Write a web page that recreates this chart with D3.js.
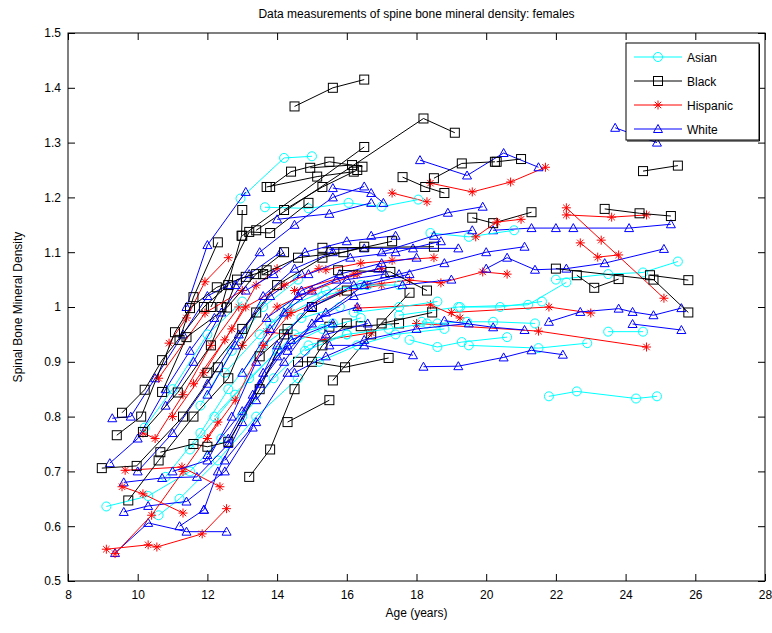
<!DOCTYPE html>
<html><head><meta charset="utf-8">
<script src="https://cdn.jsdelivr.net/npm/d3@7"></script>
<style>body{margin:0;background:#fff}svg{display:block}text{font-family:"Liberation Sans",Arial,Helvetica,sans-serif}</style>
</head><body><svg id="c" width="772" height="633"></svg>
<script>
const xTicks = [8,10,12,14,16,18,20,22,24,26,28];
const yTicks = [0.5,0.6,0.7,0.8,0.9,1.0,1.1,1.2,1.3,1.4,1.5];
const raceNames = ["Asian","Black","Hispanic","White"];
const raceColors = ["#00ffff","#000000","#ff0000","#0000ff"];

const asian = [
 [[12.95,1.198],[14.2,1.272],[15.0,1.275]],
 [[13.65,1.182],[14.9,1.18],[16.05,1.19],[17.0,1.183],[18.05,1.196]],
 [[21.8,0.837],[22.6,0.846],[24.3,0.833],[24.9,0.837]],
 [[17.5,0.985],[19.2,1.0],[21.2,1.004],[22.3,1.045]],
 [[22.0,1.05],[23.5,1.06],[24.5,1.063],[25.5,1.083]],
 [[19.5,0.93],[21.5,0.925],[22.9,0.934]],
 [[17.8,0.94],[18.6,0.927],[19.3,0.936],[20.6,0.945]],
 [[23.5,0.955],[24.5,0.955]],
 [[18.15,0.973],[18.6,0.97],[19.45,0.973],[20.2,0.973],[21.4,0.97]],
 [[19.25,1.0],[20.4,1.0],[21.6,1.01]],
 [[9.1,0.636],[10.3,0.655],[11.5,0.70],[12.4,0.76]],
 [[10.6,0.62],[11.2,0.65],[12.3,0.72],[13.4,0.80],[14.6,0.87]],
 [[10.8,0.69],[11.8,0.77],[12.6,0.85],[13.6,0.93],[14.7,0.98],[15.8,1.0]],
 [[11.5,0.74],[12.8,0.84],[14.0,0.92],[15.3,0.96],[16.4,0.98]],
 [[12.2,0.80],[13.2,0.87],[14.5,0.95],[15.6,0.97]],
 [[11.8,0.82],[12.7,0.92],[13.6,1.0],[14.6,1.05]],
 [[13.5,0.95],[14.3,1.0],[15.4,1.03],[16.4,1.04],[17.5,1.04]],
 [[12.5,0.88],[13.8,0.97],[15.3,1.02],[16.6,1.04]],
 [[14.8,0.92],[16.0,0.95],[17.2,0.96],[18.3,0.97]],
 [[10.2,0.78],[11.0,0.85],[12.0,0.95],[13.0,1.01]],
 [[16.2,0.99],[17.5,1.0],[18.6,1.01]],
 [[18.4,1.135],[19.5,1.128],[20.8,1.14]],
 [[15.2,0.90],[16.3,0.93],[17.4,0.95],[18.8,0.96]],
 [[13.0,0.80],[13.9,0.87],[14.9,0.93],[16.0,0.95]]
];

const black = [
 [[14.5,1.366],[15.6,1.40],[16.5,1.415]],
 [[13.0,1.13],[16.5,1.292]],
 [[13.4,1.14],[18.2,1.344],[19.1,1.318]],
 [[24.5,1.248],[25.5,1.258]],
 [[13.8,1.219],[14.4,1.247],[15.5,1.265],[16.45,1.256]],
 [[14.95,1.254],[16.15,1.259]],
 [[13.7,1.219],[15.15,1.238],[16.2,1.247]],
 [[14.2,1.177],[15.3,1.219],[16.3,1.25]],
 [[17.6,1.237],[18.25,1.219],[18.8,1.208]],
 [[18.5,1.235],[19.3,1.262],[20.25,1.265]],
 [[19.6,1.163],[20.2,1.153],[21.3,1.173]],
 [[15.3,1.108],[18.5,1.11]],
 [[15.5,0.964],[16.4,0.965],[17.5,0.97]],
 [[14.3,0.79],[15.5,0.83]],
 [[15.6,0.866],[16.7,0.95],[17.8,1.026]],
 [[14.6,0.9],[15.0,0.9],[15.95,0.89],[17.2,0.907]],
 [[23.4,1.179],[24.4,1.171],[25.3,1.166]],
 [[22.6,1.058],[23.1,1.035],[23.8,1.051]],
 [[24.7,1.058],[25.8,1.049]],
 [[22.0,1.07],[24.8,1.05],[25.8,0.99]],
 [[12.4,1.0],[12.98,1.13],[13.0,1.177]],
 [[11.2,0.94],[11.6,1.018],[12.3,1.118]],
 [[12.1,1.0],[13.2,1.137],[13.8,1.135],[14.9,1.19]],
 [[8.97,0.706],[9.97,0.71],[11.3,0.80],[12.3,0.89]],
 [[9.55,0.807],[10.2,0.849],[10.7,0.903],[11.9,1.0],[12.6,1.04]],
 [[9.4,0.766],[10.1,0.80],[11.07,0.954],[11.5,0.998],[12.27,1.036],[13.1,1.055]],
 [[9.73,0.647],[10.6,0.72],[11.6,0.80],[12.6,0.87],[13.4,0.99]],
 [[10.15,0.772],[11.15,0.844],[12.1,0.93],[12.85,1.05],[13.7,1.067]],
 [[10.65,0.735],[11.6,0.75],[12.0,0.745],[12.6,0.754],[13.5,0.85],[14.3,0.96]],
 [[13.2,0.69],[13.8,0.74],[14.5,0.85],[15.3,0.93],[16.0,0.97]],
 [[10.7,0.845],[11.4,0.945],[12.56,0.999],[13.4,1.06],[14.2,1.1]],
 [[12.0,0.88],[13.0,0.96],[14.0,1.04],[15.3,1.09],[16.5,1.11]],
 [[13.5,0.91],[14.2,0.95],[15.0,1.0],[16.0,1.03]],
 [[15.75,1.067],[17.25,1.064],[18.3,1.03]],
 [[17.0,0.97],[18.45,0.99]],
 [[20.3,1.265],[21.0,1.27]],
 [[13.6,1.06],[14.6,1.09],[15.9,1.1],[17.3,1.12]]
];

const hispanic = [
 [[17.3,1.208],[18.3,1.192]],
 [[18.4,1.226],[19.6,1.21],[20.7,1.228],[21.7,1.255]],
 [[15.4,1.068],[16.4,1.08],[17.3,1.085],[18.5,1.09]],
 [[16.6,1.04],[17.8,1.049],[18.7,1.044],[19.9,1.064],[20.6,1.06]],
 [[14.3,0.985],[15.8,1.027],[17.0,1.04]],
 [[16.3,0.998],[18.4,1.004],[19.25,0.98]],
 [[13.7,0.955],[15.4,0.94],[16.7,0.953]],
 [[18.0,0.97],[21.5,0.956],[24.6,0.927]],
 [[19.0,0.99],[21.8,1.0],[23.0,0.989]],
 [[22.3,1.181],[23.3,1.122],[25.1,1.016]],
 [[22.3,1.168],[23.6,1.164],[24.6,1.168]],
 [[22.7,1.117],[23.2,1.091],[23.8,1.095]],
 [[9.1,0.558],[10.3,0.566],[10.55,0.562],[11.85,0.586],[12.55,0.632]],
 [[9.35,0.55],[10.4,0.62],[11.3,0.70],[12.3,0.79]],
 [[9.55,0.672],[10.15,0.659],[11.3,0.624]],
 [[9.64,0.702],[11.27,0.708],[12.36,0.672]],
 [[10.15,0.77],[10.5,0.76],[11.3,0.84],[12.1,0.93],[12.9,1.0]],
 [[10.9,0.934],[11.4,0.98],[11.93,1.046],[12.6,1.09]],
 [[11.0,0.80],[11.9,0.88],[12.7,0.96],[13.4,1.04],[14.0,1.07]],
 [[11.6,0.86],[12.5,0.94],[13.1,1.0],[14.2,1.04],[15.2,1.07]],
 [[12.0,0.76],[12.8,0.83],[13.6,0.93],[14.4,0.99]],
 [[10.6,0.87],[11.93,0.989],[13.0,1.03]],
 [[13.0,0.93],[14.0,1.0],[15.0,1.03],[16.3,1.06]],
 [[14.5,1.03],[16.2,1.06],[17.0,1.07]],
 [[19.7,1.128],[20.3,1.155],[21.0,1.16]]
];

const white = [
 [[23.7,1.327],[24.9,1.30]],
 [[18.1,1.268],[19.45,1.24],[20.5,1.281],[21.5,1.255]],
 [[15.6,1.217],[16.7,1.208],[17.05,1.19]],
 [[16.7,1.13],[18.9,1.172],[19.9,1.183]],
 [[15.5,1.105],[16.5,1.107],[17.9,1.107],[19.2,1.107]],
 [[20.2,1.14],[21.3,1.144],[22.0,1.144],[22.5,1.144],[24.1,1.144],[25.3,1.151]],
 [[20.0,1.07],[20.6,1.09],[21.4,1.068],[22.3,1.07],[23.4,1.08],[25.1,1.106]],
 [[18.2,0.891],[19.2,0.892],[20.5,0.908],[21.3,0.921],[22.2,0.913]],
 [[21.8,0.973],[22.7,0.991],[23.8,0.997],[24.2,0.991],[24.8,0.985],[25.6,0.998]],
 [[18.8,0.975],[20.2,0.963],[21.1,0.958]],
 [[24.2,0.969],[25.6,0.958]],
 [[9.35,0.551],[10.3,0.606],[11.4,0.59],[12.55,0.59]],
 [[9.6,0.626],[10.3,0.637],[11.4,0.645],[12.5,0.70],[13.3,0.78]],
 [[9.6,0.68],[10.7,0.688],[11.7,0.69],[12.6,0.75],[13.5,0.86],[14.3,0.93]],
 [[9.27,0.797],[9.8,0.80],[10.5,0.87],[11.3,0.95],[12.0,1.02],[12.6,1.04]],
 [[11.4,1.0],[12.0,1.113],[13.1,1.21]],
 [[9.2,0.715],[10.0,0.76],[10.8,0.85],[11.5,0.92],[12.2,0.98]],
 [[10.0,0.70],[11.0,0.77],[12.0,0.86],[12.9,0.95],[13.8,1.02],[14.7,1.06]],
 [[11.9,0.63],[12.3,0.70],[13.0,0.79],[13.6,0.88],[14.4,0.94],[15.6,0.97]],
 [[11.0,0.70],[12.0,0.72],[12.7,0.80],[13.4,0.90],[14.2,0.99],[15.0,1.03]],
 [[12.0,0.73],[13.0,0.81],[14.0,0.91],[15.2,0.98],[16.3,1.0]],
 [[12.5,0.72],[13.4,0.79],[14.3,0.88],[15.4,0.95],[16.6,0.97]],
 [[10.8,0.82],[11.6,0.90],[12.4,0.99],[13.2,1.06],[14.1,1.10]],
 [[12.0,0.84],[12.8,0.93],[13.6,1.02],[14.5,1.07],[15.6,1.10]],
 [[13.0,0.88],[13.8,0.96],[14.7,1.03],[15.8,1.06],[17.0,1.08],[18.0,1.09]],
 [[13.4,0.83],[14.2,0.90],[15.0,0.97],[16.2,1.02],[17.6,1.04],[19.0,1.05]],
 [[14.3,0.92],[15.4,0.99],[16.5,1.04],[17.8,1.06]],
 [[15.5,0.93],[16.5,0.93],[17.9,0.912]],
 [[14.5,0.88],[15.4,0.91],[16.5,0.94],[18.0,0.96],[19.5,0.97]],
 [[12.8,1.04],[13.5,1.10],[14.5,1.15],[15.6,1.20],[16.5,1.22]],
 [[14.0,1.16],[15.5,1.17],[16.7,1.19]],
 [[17.0,1.10],[18.5,1.13],[19.6,1.14]],
 [[15.0,1.0],[16.2,1.04],[17.5,1.06],[18.8,1.08],[20.0,1.10],[21.1,1.11]],
 [[11.2,0.60],[11.9,0.63]],
 [[13.1,1.03],[13.9,1.06],[14.8,1.1],[16.0,1.12],[17.4,1.13]],
 [[12.6,0.76],[13.3,0.84],[14.0,0.93],[14.9,1.0],[16.0,1.05],[17.1,1.06]],
 [[13.7,0.98],[14.6,1.02],[15.7,1.05],[16.9,1.07]],
 [[14.9,1.06],[16.1,1.09],[17.4,1.1],[18.7,1.12]]
];

const races = [asian, black, hispanic, white];

const W = 772, H = 633;
const L = 68, R = 765, T = 33, B = 581;
const svg = d3.select("#c");
svg.append("rect").attr("width",W).attr("height",H).attr("fill","#fff");

const x = d3.scaleLinear().domain([8,28]).range([L,R]);
const y = d3.scaleLinear().domain([0.5,1.5]).range([B,T]);

const plot = svg.append("g");
plot.append("clipPath").attr("id","clip").append("rect")
  .attr("x",L).attr("y",T).attr("width",R-L).attr("height",B-T);
const g = plot.append("g").attr("clip-path","url(#clip)");

function marker(sel, type, color){
  if(type===0){
    sel.append("circle").attr("r",4.5).attr("fill","none").attr("stroke",color);
  } else if(type===1){
    sel.append("rect").attr("x",-4.5).attr("y",-4.5).attr("width",9).attr("height",9)
      .attr("fill","none").attr("stroke",color);
  } else if(type===2){
    sel.append("path").attr("d","M-4.5,0H4.5M0,-4.5V4.5M-3.2,-3.2L3.2,3.2M-3.2,3.2L3.2,-3.2")
      .attr("stroke",color).attr("fill","none");
  } else {
    sel.append("path").attr("d","M0,-4.5L4.5,3.5L-4.5,3.5Z").attr("fill","none").attr("stroke",color);
  }
}

const order = [];
const maxN = d3.max(races, r => r.length);
for(let i=0;i<maxN;i++) for(let k=0;k<4;k++) if(races[k][i]) order.push({k, pts: races[k][i]});

const line = d3.line().x(d=>x(d[0])).y(d=>y(d[1]));
order.forEach(s=>{
  const col = raceColors[s.k];
  const sg = g.append("g");
  sg.append("path").attr("d", line(s.pts)).attr("fill","none").attr("stroke",col).attr("stroke-width",1);
  s.pts.forEach(p=>{
    const m = sg.append("g").attr("transform",`translate(${x(p[0])},${y(p[1])})`);
    marker(m, s.k, col);
  });
});

const fmt = v => String(+v.toFixed(1));
const axB = svg.append("g").attr("transform",`translate(0,${B})`)
  .call(d3.axisBottom(x).tickValues(xTicks).tickSizeInner(-7).tickSizeOuter(0).tickPadding(9).tickFormat(fmt));
const axT = svg.append("g").attr("transform",`translate(0,${T})`)
  .call(d3.axisTop(x).tickValues(xTicks).tickSizeInner(-7).tickSizeOuter(0).tickFormat(""));
const axL = svg.append("g").attr("transform",`translate(${L},0)`)
  .call(d3.axisLeft(y).tickValues(yTicks).tickSizeInner(-7).tickSizeOuter(0).tickPadding(7).tickFormat(fmt));
const axR = svg.append("g").attr("transform",`translate(${R},0)`)
  .call(d3.axisRight(y).tickValues(yTicks).tickSizeInner(-7).tickSizeOuter(0).tickFormat(""));
[axB,axT,axL,axR].forEach(a=>{
  a.select(".domain").remove();
  a.selectAll("text").attr("font-size",12).attr("fill","#000").attr("font-family",'"Liberation Sans",Arial,sans-serif');
  a.selectAll("line").attr("stroke","#000");
});
svg.append("rect").attr("x",L).attr("y",T).attr("width",R-L).attr("height",B-T)
  .attr("fill","none").attr("stroke","#000").attr("stroke-width",1);

svg.append("text").attr("x",(L+R)/2).attr("y",18).attr("text-anchor","middle").attr("font-size",12)
  .text("Data measurements of spine bone mineral density: females");
svg.append("text").attr("x",(L+R)/2).attr("y",617).attr("text-anchor","middle").attr("font-size",12)
  .text("Age (years)");
svg.append("text").attr("transform",`translate(22,${(T+B)/2}) rotate(-90)`).attr("text-anchor","middle").attr("font-size",12)
  .text("Spinal Bone Mineral Density");

const lg = svg.append("g");
lg.append("rect").attr("x",626).attr("y",43).attr("width",133).attr("height",97)
  .attr("fill","#fff").attr("stroke","#000");
lg.append("path").attr("d","M759.5,44V141H627").attr("fill","none").attr("stroke","#000");
raceNames.forEach((n,i)=>{
  const yy = 57 + i*24;
  lg.append("line").attr("x1",634).attr("x2",682).attr("y1",yy).attr("y2",yy).attr("stroke",raceColors[i]);
  const m = lg.append("g").attr("transform",`translate(658,${yy})`);
  marker(m, i, raceColors[i]);
  lg.append("text").attr("x",687).attr("y",yy+4.5).attr("font-size",12).text(n);
});
</script></body></html>
